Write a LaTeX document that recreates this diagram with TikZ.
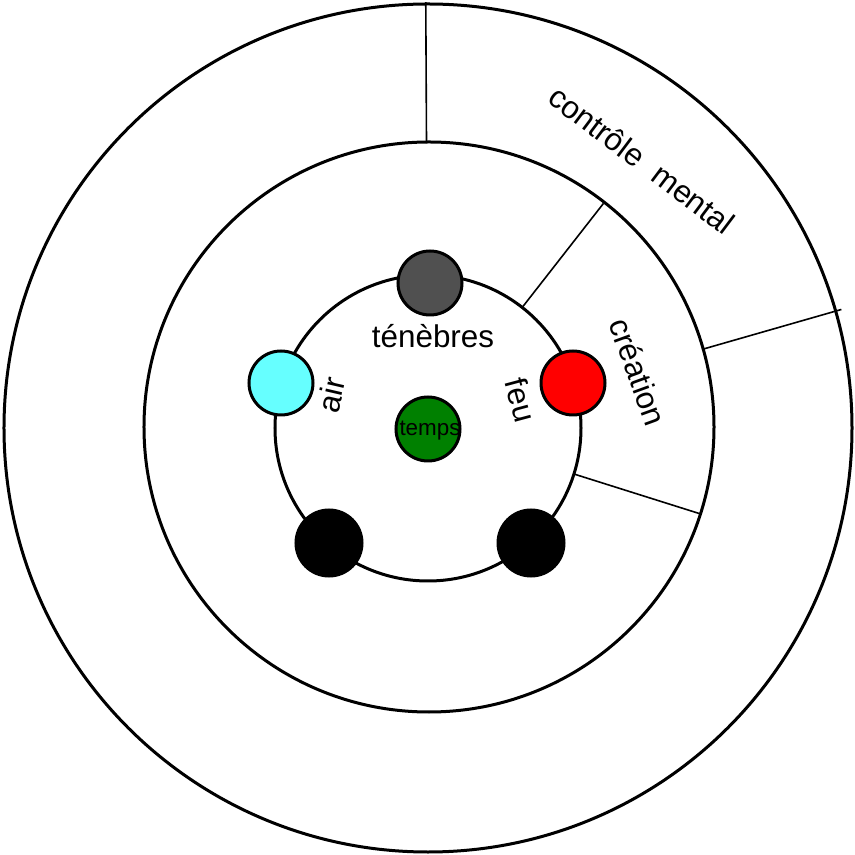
\documentclass[tikz,border=0pt]{standalone}
\usepackage{fontspec}
\setmainfont{Liberation Sans}
\definecolor{darkgrey}{RGB}{80,80,80}
\definecolor{aircyan}{RGB}{102,255,255}
\definecolor{timegreen}{RGB}{0,128,0}
\usetikzlibrary{positioning}

\begin{document}
\begin{tikzpicture}[
        x=0.5pt, y=0.5pt,
        ring/.style={line width=1.5pt},
        split/.style={line width=0.8pt},
        dot/.style={circle, draw, line width=1.5pt, minimum size=32pt, inner sep=0pt},
        lbl/.style={inner sep=0pt, font=\fontsize{15.7}{18}\selectfont}
      ]
        \useasboundingbox (-428,-427) rectangle (427,428);
        % rings
        \draw[ring] (0,0) circle (424);
        \draw[ring] (1,1) circle (285);
        \draw[ring] (0,0) circle (153);
        % sector borders
        \draw[split] (90.3:285) -- (90.3:426);
        \draw[split] (52:153) -- (52:285);
        \draw[split] (16:285) -- (16:430);
        \draw[split] (-17.5:153) -- (-17.5:285);
        % elements
        \node[dot, fill=darkgrey] (tenebres) at (2,145) {};
        \node[dot, fill=aircyan] (air) at (-147,45) {};
        \node[dot, fill=red] (feu) at (145,45) {};
        \node[dot, fill=black, minimum size=33pt] (left) at (-99,-115) {};
        \node[dot, fill=black, minimum size=33pt] (right) at (103,-115) {};
        \node[dot, fill=timegreen] (temps) at (0,-1) {};
        % labels
        \node[lbl, anchor=base] (tenebreslbl) at (5,80) {ténèbres};
        \node[lbl, rotate=77] (airlbl) at (-97,33) {air};
        \node[lbl, rotate=-75] (feulbl) at (93,28) {feu};
        \node[lbl, font=\fontsize{11.2}{12}\selectfont] (tempslbl) at (2,-3) {temps};
        \node[lbl, rotate=-70] (creation) at (210,56) {création};
        \node[lbl, rotate=-37] (controle) at (214,268) {contrôle\ \ mental};
      \end{tikzpicture}
\end{document}
